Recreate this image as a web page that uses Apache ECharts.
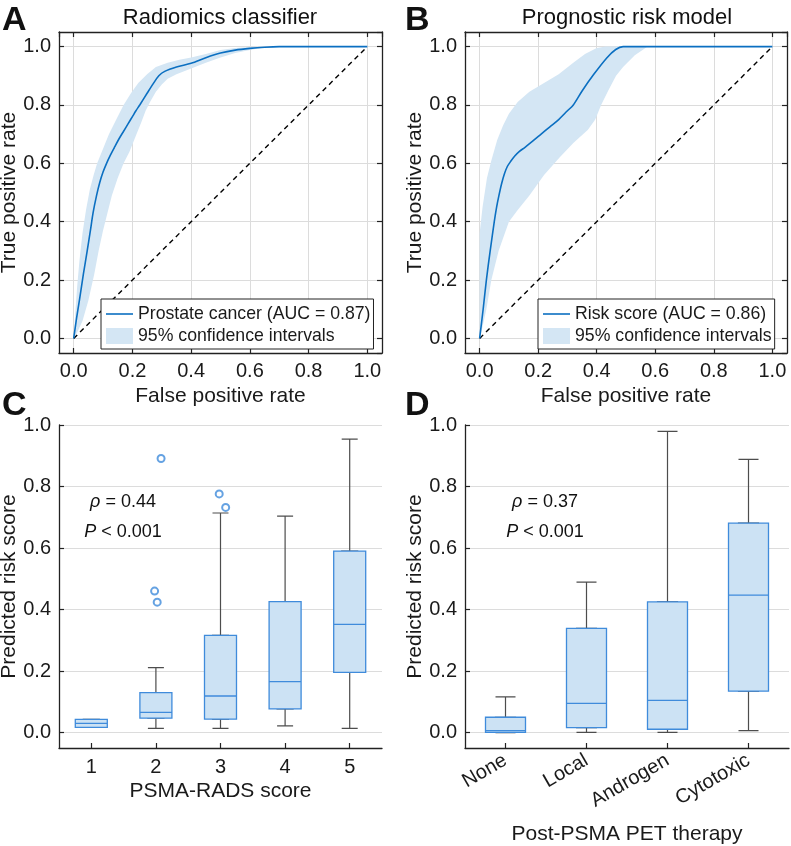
<!DOCTYPE html>
<html>
<head>
    <meta charset="utf-8" />
    <script src="https://cdn.jsdelivr.net/npm/echarts@6.0.0/dist/echarts.min.js"></script>
    <style>
        html, body { margin: 0; padding: 0; background: #fff; }
        #chart { width: 791px; height: 846px; }
    </style>
</head>
<body>
    <div id="chart"></div>
    <script>
        // ---- panel A: radiomics ROC ----
        var rocAx = [0, 0.01, 0.02, 0.033, 0.046, 0.057, 0.066, 0.078, 0.089, 0.1, 0.112, 0.125, 0.14, 0.155, 0.17, 0.185, 0.2, 0.212, 0.225, 0.25, 0.271, 0.29, 0.31, 0.35, 0.4, 0.45, 0.5, 0.55, 0.6, 0.65, 0.7, 0.8, 0.9, 1.0];
        var rocAy = [0, 0.07, 0.134, 0.22, 0.3, 0.37, 0.43, 0.49, 0.535, 0.57, 0.6, 0.628, 0.657, 0.685, 0.71, 0.735, 0.76, 0.78, 0.8, 0.84, 0.873, 0.9, 0.915, 0.93, 0.943, 0.962, 0.978, 0.988, 0.994, 0.998, 1.0, 1.0, 1.0, 1.0];
        // confidence band outline: upper edge then lower edge back to origin
        var bandA = [[0, 0], [0.005, 0.08], [0.012, 0.18], [0.02, 0.27], [0.03, 0.36], [0.042, 0.44], [0.055, 0.51], [0.068, 0.56], [0.08, 0.6], [0.1, 0.65], [0.12, 0.7], [0.145, 0.75], [0.17, 0.8], [0.195, 0.84], [0.22, 0.875], [0.25, 0.905], [0.28, 0.93], [0.32, 0.945], [0.36, 0.955], [0.4, 0.963], [0.45, 0.975], [0.5, 0.988], [0.55, 0.995], [0.6, 0.999], [0.65, 1.0],
            [0.65, 0.997], [0.6, 0.988], [0.55, 0.978], [0.5, 0.963], [0.45, 0.945], [0.4, 0.925], [0.35, 0.905], [0.32, 0.89], [0.3, 0.87], [0.28, 0.845], [0.26, 0.81], [0.245, 0.78], [0.23, 0.74], [0.21, 0.69], [0.19, 0.64], [0.17, 0.6], [0.15, 0.55], [0.13, 0.49], [0.115, 0.43], [0.1, 0.37], [0.085, 0.3], [0.07, 0.22], [0.05, 0.13], [0.03, 0.06], [0.012, 0.02], [0, 0]];

        // ---- panel B: prognostic ROC ----
        var rocBx = [0, 0.012, 0.023, 0.036, 0.05, 0.058, 0.066, 0.075, 0.085, 0.095, 0.105, 0.12, 0.135, 0.155, 0.18, 0.21, 0.24, 0.27, 0.3, 0.32, 0.35, 0.39, 0.435, 0.465, 0.49, 0.6, 0.8, 1.0];
        var rocBy = [0, 0.1, 0.2, 0.3, 0.4, 0.45, 0.49, 0.53, 0.565, 0.59, 0.605, 0.625, 0.64, 0.655, 0.675, 0.7, 0.725, 0.75, 0.78, 0.8, 0.848, 0.905, 0.962, 0.99, 1.0, 1.0, 1.0, 1.0];
        var bandB = [[0, 0], [0, 0.36], [0.01, 0.45], [0.025, 0.55], [0.04, 0.61], [0.06, 0.68], [0.08, 0.73], [0.1, 0.77], [0.13, 0.81], [0.17, 0.845], [0.22, 0.875], [0.27, 0.905], [0.32, 0.945], [0.36, 0.975], [0.4, 0.995], [0.43, 1.0], [0.574, 1.0],
            [0.53, 0.97], [0.49, 0.93], [0.466, 0.9], [0.44, 0.85], [0.415, 0.8], [0.395, 0.75], [0.37, 0.715], [0.32, 0.67], [0.273, 0.62], [0.22, 0.56], [0.17, 0.49], [0.13, 0.44], [0.1, 0.4], [0.065, 0.3], [0.04, 0.2], [0.023, 0.1], [0.01, 0.04], [0, 0]];

        var diagX = [0, 1];
        var diagY = [0, 1];

        // ---- panel C: PSMA-RADS boxplots ----
        var cCats = ['1', '2', '3', '4', '5'];
        var cMin = [0.017, 0.014, 0.014, 0.022, 0.014];
        var cQ1 = [0.017, 0.047, 0.044, 0.077, 0.196];
        var cMed = [0.030, 0.066, 0.119, 0.166, 0.352];
        var cQ3 = [0.043, 0.130, 0.316, 0.426, 0.590];
        var cMax = [0.043, 0.211, 0.714, 0.704, 0.954];
        var cOutX = [1.98, 2.02, 2.08, 2.98, 3.08];
        var cOutY = [0.460, 0.424, 0.891, 0.776, 0.732];

        // ---- panel D: therapy boxplots ----
        var dCats = ['None', 'Local', 'Androgen', 'Cytotoxic'];
        var dMin = [0.0, 0.001, 0.001, 0.0065];
        var dQ1 = [0.001, 0.016, 0.011, 0.135];
        var dMed = [0.0065, 0.095, 0.105, 0.447];
        var dQ3 = [0.050, 0.339, 0.425, 0.681];
        var dMax = [0.116, 0.489, 0.979, 0.888];

        var FONT = '"Liberation Sans", Arial, sans-serif';
        var TXT = '#1a1a1a';
        var LINE = '#0b6fc1';
        var BAND = '#d4e6f4';
        var BOXEDGE = '#3f8bdb';
        var BOXFILL = '#cce2f4';
        var WHISK = '#4d4d4d';
        var GRIDC = '#dcdcdc';

        var zip = function (xs, ys) { return xs.map(function (x, i) { return [x, ys[i]]; }); };
        var fmt = function (v) { return v.toFixed(1); };

        var chart = echarts.init(document.getElementById('chart'), null, { renderer: 'canvas' });

        var frameAxis = function (extra) {
            var a = {
                type: 'value', min: -0.05, max: 1.05,
                axisLine: { show: true, onZero: false, lineStyle: { color: '#222', width: 1.3 } },
                axisTick: { show: true, inside: true, length: 5, lineStyle: { color: '#222', width: 1.2 } },
                splitLine: { show: false },
                axisLabel: { show: false }
            };
            for (var k in extra) a[k] = extra[k];
            return a;
        };
        var mainAxis = function (extra, name, gap) {
            return frameAxis(Object.assign({
                name: name, nameLocation: 'middle', nameGap: gap,
                nameTextStyle: { fontSize: 21, color: TXT, fontFamily: FONT },
                splitLine: { show: true, lineStyle: { color: GRIDC, width: 1 } },
                axisLabel: { show: true, formatter: fmt, fontSize: 20, color: TXT, fontFamily: FONT, margin: 8, showMinLabel: false, showMaxLabel: false }
            }, extra));
        };

        var bandSeries = function (band, xi, yi) {
            return {
                type: 'custom', name: '95% confidence intervals',
                xAxisIndex: xi, yAxisIndex: yi,
                itemStyle: { color: BAND },
                data: band,
                silent: true,
                z: 1,
                renderItem: function (params, api) {
                    if (params.dataIndex !== 0) return;
                    var pts = band.map(function (p) { return api.coord(p); });
                    return { type: 'polygon', shape: { points: pts }, style: { fill: BAND } };
                }
            };
        };
        var rocSeries = function (name, xs, ys, xi, yi) {
            return {
                type: 'line', name: name, xAxisIndex: xi, yAxisIndex: yi,
                data: zip(xs, ys), symbol: 'none', smooth: 0.3,
                lineStyle: { color: LINE, width: 1.6 }, itemStyle: { color: LINE }, z: 3
            };
        };
        var diagSeries = function (xi, yi) {
            return {
                type: 'line', name: 'chance', xAxisIndex: xi, yAxisIndex: yi,
                data: zip(diagX, diagY), symbol: 'none',
                lineStyle: { color: '#000', width: 1.4, type: [5, 4] }, z: 2
            };
        };
        var legendBox = function (left, first) {
            return {
                orient: 'vertical', left: left, top: 299,
                padding: [6, 3, 4, 5], itemGap: 4, itemWidth: 27, itemHeight: 16,
                borderColor: '#222', borderWidth: 1, backgroundColor: '#fff',
                selectedMode: false,
                textStyle: { fontSize: 17.7, color: TXT, fontFamily: FONT },
                data: [
                    { name: first, icon: 'path://M0,0 H27 V1.6 H0 Z' },
                    { name: '95% confidence intervals', icon: 'rect' }
                ]
            };
        };

        var catAxis = function (grid, cats, show, extraLabel, name, gap) {
            var a = {
                type: 'category', gridIndex: grid, data: cats, show: show, boundaryGap: true,
                axisLine: { show: true, onZero: false, lineStyle: { color: '#222', width: 1.3 } },
                axisTick: { show: true, inside: true, length: 5, alignWithLabel: true, lineStyle: { color: '#222', width: 1.2 } },
                axisLabel: Object.assign({ interval: 0, fontSize: 20, color: TXT, fontFamily: FONT, margin: 9 }, extraLabel || {}),
                splitLine: { show: false }
            };
            if (name) {
                a.name = name; a.nameLocation = 'middle'; a.nameGap = gap;
                a.nameTextStyle = { fontSize: 21, color: TXT, fontFamily: FONT };
            }
            return a;
        };
        var boxY = function (grid) {
            return {
                type: 'value', gridIndex: grid, min: -0.05, max: 1.0,
                name: 'Predicted risk score', nameLocation: 'middle', nameGap: 37,
                nameTextStyle: { fontSize: 21, color: TXT, fontFamily: FONT },
                axisLine: { show: true, onZero: false, lineStyle: { color: '#222', width: 1.3 } },
                axisTick: { show: true, inside: true, length: 5, lineStyle: { color: '#222', width: 1.2 } },
                splitLine: { show: true, lineStyle: { color: GRIDC, width: 1 } },
                axisLabel: { formatter: fmt, fontSize: 20, color: TXT, fontFamily: FONT, margin: 8, showMinLabel: false }
            };
        };
        var whiskers = function (xi, yi, mins, q1, med, q3, maxs, w) {
            return {
                type: 'boxplot', xAxisIndex: xi, yAxisIndex: yi, boxWidth: [w, w],
                data: mins.map(function (m, i) { return [m, q1[i], med[i], q3[i], maxs[i]]; }),
                itemStyle: { color: 'rgba(0,0,0,0)', borderColor: WHISK, borderWidth: 1.2 },
                emphasis: { disabled: true }, silent: true, z: 2
            };
        };
        var boxes = function (xi, yi, q1, med, q3, w) {
            return {
                type: 'boxplot', xAxisIndex: xi, yAxisIndex: yi, boxWidth: [w, w],
                data: q1.map(function (q, i) { return [q, q, med[i], q3[i], q3[i]]; }),
                itemStyle: { color: BOXFILL, borderColor: BOXEDGE, borderWidth: 1.3 },
                emphasis: { disabled: true }, silent: true, z: 3
            };
        };

        var textEl = function (x, y, text, size, weight, rich, align) {
            return {
                type: 'text', x: x, y: y, silent: true,
                style: {
                    text: text, fontSize: size, fontWeight: weight || 'normal', fontFamily: FONT,
                    fill: '#111', align: align || 'center', verticalAlign: 'middle', rich: rich
                }
            };
        };
        var ital = { i: { fontStyle: 'italic', fontSize: 18, fontFamily: FONT, fill: '#111' } };

        var option = {
            animation: false,
            backgroundColor: '#fff',
            grid: [
                { left: 59, top: 32, width: 323, height: 321, outerBoundsMode: 'none' },
                { left: 465, top: 32, width: 322, height: 321, outerBoundsMode: 'none' },
                { left: 59, top: 425, width: 323, height: 323, outerBoundsMode: 'none' },
                { left: 465, top: 425, width: 324, height: 323, outerBoundsMode: 'none' }
            ],
            xAxis: [
                mainAxis({ gridIndex: 0, position: 'bottom' }, 'False positive rate', 33),
                frameAxis({ gridIndex: 0, position: 'top' }),
                mainAxis({ gridIndex: 1, position: 'bottom' }, 'False positive rate', 33),
                frameAxis({ gridIndex: 1, position: 'top' }),
                catAxis(2, cCats, true, null, 'PSMA-RADS score', 33),
                catAxis(2, cCats, false),
                { type: 'value', gridIndex: 2, min: 0.5, max: 5.5, show: false },
                catAxis(3, dCats, true, { rotate: 30, margin: 11 }, 'Post-PSMA PET therapy', 76),
                catAxis(3, dCats, false)
            ],
            yAxis: [
                mainAxis({ gridIndex: 0, position: 'left' }, 'True positive rate', 37),
                frameAxis({ gridIndex: 0, position: 'right' }),
                mainAxis({ gridIndex: 1, position: 'left' }, 'True positive rate', 37),
                frameAxis({ gridIndex: 1, position: 'right' }),
                boxY(2),
                boxY(3)
            ],
            legend: [
                legendBox(101, 'Prostate cancer (AUC = 0.87)'),
                legendBox(538, 'Risk score (AUC = 0.86)')
            ],
            series: [
                bandSeries(bandA, 0, 0),
                diagSeries(0, 0),
                rocSeries('Prostate cancer (AUC = 0.87)', rocAx, rocAy, 0, 0),
                bandSeries(bandB, 2, 2),
                diagSeries(2, 2),
                rocSeries('Risk score (AUC = 0.86)', rocBx, rocBy, 2, 2),
                whiskers(4, 4, cMin, cQ1, cMed, cQ3, cMax, 16),
                boxes(5, 4, cQ1, cMed, cQ3, 32),
                {
                    type: 'scatter', xAxisIndex: 6, yAxisIndex: 4,
                    data: zip(cOutX, cOutY), symbol: 'emptyCircle', symbolSize: 7,
                    itemStyle: { color: BOXEDGE, borderWidth: 1.3 }, silent: true, z: 4
                },
                whiskers(7, 5, dMin, dQ1, dMed, dQ3, dMax, 20),
                boxes(8, 5, dQ1, dMed, dQ3, 40)
            ],
            graphic: [
                textEl(2, 21, 'A', 34, 'bold', null, 'left'),
                textEl(405, 21, 'B', 34, 'bold', null, 'left'),
                textEl(2, 406, 'C', 34, 'bold', null, 'left'),
                textEl(405, 406, 'D', 34, 'bold', null, 'left'),
                textEl(220, 18, 'Radiomics classifier', 22),
                textEl(627, 18, 'Prognostic risk model', 22),
                textEl(123, 502, '{i|ρ} = 0.44', 18, 'normal', ital),
                textEl(123, 532, '{i|P} < 0.001', 18, 'normal', ital),
                textEl(545, 502, '{i|ρ} = 0.37', 18, 'normal', ital),
                textEl(545, 532, '{i|P} < 0.001', 18, 'normal', ital)
            ]
        };

        chart.setOption(option);
    </script>
</body>
</html>
